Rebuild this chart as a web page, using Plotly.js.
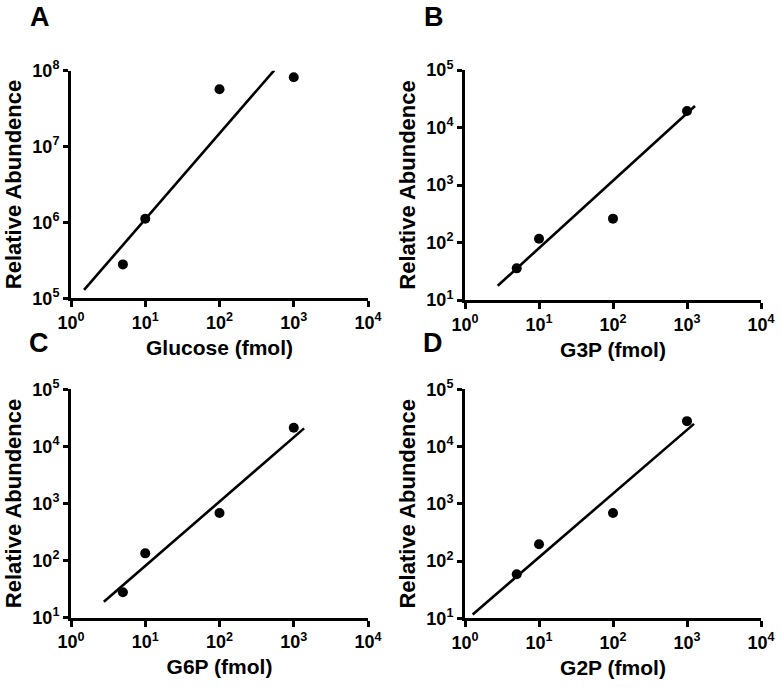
<!DOCTYPE html>
<html>
<head>
<meta charset="utf-8">
<script src="https://cdn.plot.ly/plotly-3.0.1.min.js"></script>
<style>html,body{margin:0;padding:0;background:#fff;}</style>
</head>
<body>
<div id="chart" style="width:781px;height:687px;"></div>
<script>
// ---- data ----
const amounts = [5, 10, 100, 1000];             // fmol

const glucoseY = [2.8e5, 1.12e6, 5.7e7, 8.2e7];
const glucoseFitX = [1.5, 549];
const glucoseFitY = [1.29e5, 1.02e8];

const g3pY = [35.5, 116, 260, 19400];
const g3pFitX = [2.77, 1282];
const g3pFitY = [17.7, 23700];

const g6pY = [28, 134, 680, 21200];
const g6pFitX = [2.77, 1377];
const g6pFitY = [19, 20700];

const g2pY = [58.7, 197, 693, 27800];
const g2pFitX = [1.27, 1244];
const g2pFitY = [11.7, 24900];

const xTickVals = [1, 10, 100, 1000, 10000];
const xTickText = ['10<sup>0</sup>', '10<sup>1</sup>', '10<sup>2</sup>', '10<sup>3</sup>', '10<sup>4</sup>'];
const yTickValsA = [1e5, 1e6, 1e7, 1e8];
const yTickTextA = ['10<sup>5</sup>', '10<sup>6</sup>', '10<sup>7</sup>', '10<sup>8</sup>'];
const yTickVals = [10, 100, 1000, 10000, 100000];
const yTickText = ['10<sup>1</sup>', '10<sup>2</sup>', '10<sup>3</sup>', '10<sup>4</sup>', '10<sup>5</sup>'];

const xTitles = ['Glucose (fmol)', 'G3P (fmol)', 'G6P (fmol)', 'G2P (fmol)'];
const yTitle = 'Relative Abundence';
const panelLetters = ['A', 'B', 'C', 'D'];

// ---- build ----
const FONT = 'Liberation Sans, Arial, sans-serif';
const TICKFONT = {family: FONT, size: 18, color: '#000', weight: 'bold'};
const series = [
  {y: glucoseY, fx: glucoseFitX, fy: glucoseFitY, xa: 'x', ya: 'y'},
  {y: g3pY, fx: g3pFitX, fy: g3pFitY, xa: 'x2', ya: 'y2'},
  {y: g6pY, fx: g6pFitX, fy: g6pFitY, xa: 'x3', ya: 'y3'},
  {y: g2pY, fx: g2pFitX, fy: g2pFitY, xa: 'x4', ya: 'y4'}
];
const traces = [];
series.forEach(s => {
  traces.push({x: s.fx, y: s.fy, xaxis: s.xa, yaxis: s.ya, mode: 'lines',
    line: {color: '#000', width: 2.6}, hoverinfo: 'skip', showlegend: false});
  traces.push({x: amounts, y: s.y, xaxis: s.xa, yaxis: s.ya, mode: 'markers',
    marker: {color: '#000', size: 10}, showlegend: false});
});

function xAxis(i, dom, anchor) {
  return {
    type: 'log', range: [0, 4], domain: dom, anchor: anchor,
    tickmode: 'array', tickvals: xTickVals, ticktext: xTickText,
    showgrid: false, zeroline: false, showline: true, linecolor: '#000', linewidth: 3,
    ticks: 'outside', ticklen: 6, tickwidth: 3, tickcolor: '#000',
    tickfont: TICKFONT,
    title: {text: xTitles[i], font: {family: FONT, size: 21, color: '#000', weight: 'bold'}, standoff: 9}
  };
}
function yAxis(range, vals, text, dom, anchor) {
  return {
    type: 'log', range: range, domain: dom, anchor: anchor,
    tickmode: 'array', tickvals: vals, ticktext: text,
    showgrid: false, zeroline: false, showline: true, linecolor: '#000', linewidth: 3,
    ticks: 'outside', ticklen: 5, tickwidth: 3, tickcolor: '#000',
    tickfont: TICKFONT,
    title: {text: yTitle, font: {family: FONT, size: 22, color: '#000', weight: 'bold'}, standoff: 5}
  };
}

const W = 781, H = 687;
const px = (a, b) => [a / W, b / W];
const py = (top, bottom) => [1 - bottom / H, 1 - top / H];

const letterPos = [[39.5, 16.5], [434, 16.5], [39, 342.5], [433, 342.5]];
const annotations = panelLetters.map((t, i) => ({
  text: t, xref: 'paper', yref: 'paper', x: letterPos[i][0] / W, y: 1 - letterPos[i][1] / H,
  xanchor: 'center', yanchor: 'middle', showarrow: false,
  font: {family: FONT, size: 27, color: '#000', weight: 'bold'}
}));

const layout = {
  width: W, height: H, margin: {l: 0, r: 0, t: 0, b: 0},
  font: TICKFONT,
  paper_bgcolor: '#fff', plot_bgcolor: '#fff', showlegend: false,
  xaxis: xAxis(0, px(71, 368), 'y'),
  yaxis: yAxis([5, 8], yTickValsA, yTickTextA, py(70.7, 298.3), 'x'),
  xaxis2: xAxis(1, px(465, 761), 'y2'),
  yaxis2: yAxis([1, 5], yTickVals, yTickText, py(70, 300), 'x2'),
  xaxis3: xAxis(2, px(71, 368), 'y3'),
  yaxis3: yAxis([1, 5], yTickVals, yTickText, py(389.3, 617.7), 'x3'),
  xaxis4: xAxis(3, px(465, 761), 'y4'),
  yaxis4: yAxis([1, 5], yTickVals, yTickText, py(389.3, 618.3), 'x4'),
  annotations: annotations
};

Plotly.newPlot('chart', traces, layout, {displayModeBar: false});
</script>
</body>
</html>
